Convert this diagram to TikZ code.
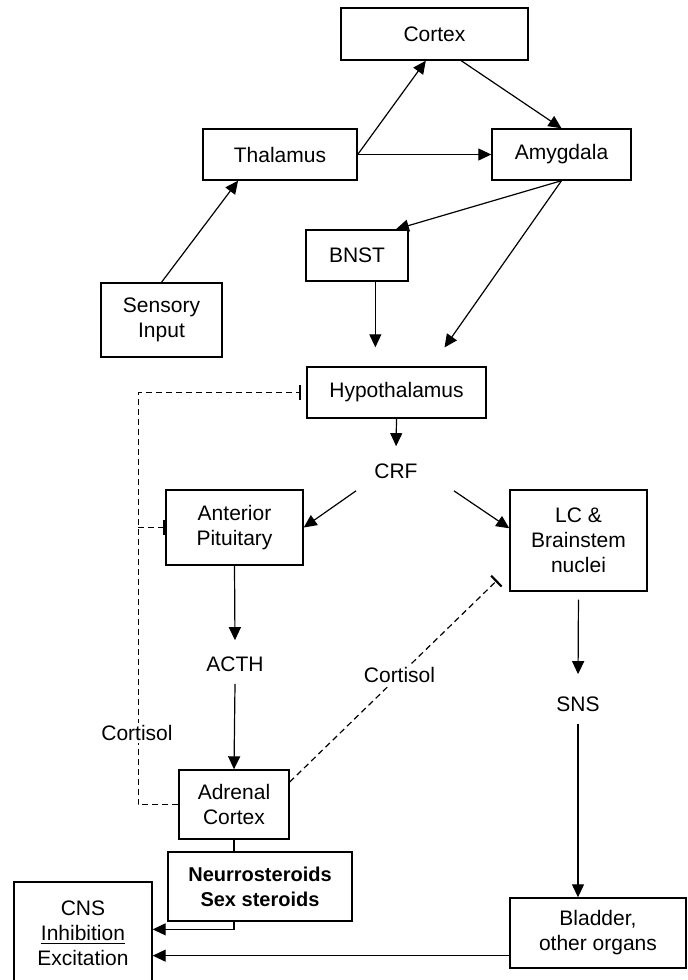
\documentclass[tikz,border=0pt]{standalone}
\usepackage{fontspec}
\setmainfont{Liberation Sans}
\usetikzlibrary{arrows.meta}

\begin{document}
\begin{tikzpicture}[x=0.5pt,y=-0.5pt,
    box/.style={draw,line width=0.7pt,align=center,inner sep=0pt,font=\fontsize{10.5}{12.5}\selectfont},
    txt/.style={inner sep=6pt,font=\fontsize{10.5}{12.5}\selectfont},
    lbl/.style={fill=white,inner sep=1pt,font=\fontsize{10.5}{12.5}\selectfont},
    arr/.style={line width=0.6pt,-{Triangle[length=6.5pt,width=6pt]}},
    inh/.style={line width=0.6pt,dash pattern=on 3pt off 2pt,-{Bar[width=7.5pt,line width=1.1pt]}}]
    \useasboundingbox (0,0) rectangle (688,980);
    % Boxes
    \node[box,minimum width=93.5pt,minimum height=26pt] (cortex) at (434.5,34) {Cortex};
    \node[box,minimum width=77pt,minimum height=25.5pt] (thalamus) at (280,154.5) {Thalamus};
    \node[box,minimum width=69.5pt,minimum height=25.5pt] (amygdala) at (561.5,154.5) {Amygdala};
    \node[box,minimum width=51pt,minimum height=25.5pt] (bnst) at (357,255.5) {BNST};
    \node[box,minimum width=60.5pt,minimum height=37pt] (sensory) at (161.5,320) {Sensory\\Input};
    \node[box,minimum width=89.5pt,minimum height=25.5pt] (hypo) at (396.5,392.5) {Hypothalamus};
    \node[box,minimum width=68.5pt,minimum height=37.5pt] (ap) at (234.5,527.5) {Anterior\\Pituitary};
    \node[box,minimum width=68.5pt,minimum height=50.5pt] (lc) at (578.5,540.5) {LC \&\\Brainstem\\nuclei};
    \node[box,minimum width=55pt,minimum height=34.5pt] (adrenal) at (234,804.5) {Adrenal\\Cortex};
    \node[box,minimum width=92pt,minimum height=34.5pt,font=\fontsize{10}{12.5}\selectfont\bfseries] (neuro) at (260,886.5) {Neurrosteroids\\Sex steroids};
    \node[box,minimum width=69pt,minimum height=51pt] (cns) at (83,933) {CNS\\\underline{Inhibition}\\Excitation};
    \node[box,minimum width=88pt,minimum height=35pt] (bladder) at (598,933) {Bladder,\\other organs};
    % Hormones
    \node[txt] (crf) at (396,471) {CRF};
    \node[txt] (acth) at (235,664) {ACTH};
    \node[txt] (sns) at (578,704) {SNS};
    % Excitatory paths
    \draw[arr] (sensory.north) -- (thalamus.212);
    \draw[arr] (thalamus.east) -- (cortex.252);
    \draw[arr] (thalamus.east) -- (amygdala.west);
    \draw[arr] (cortex.315) -- (amygdala.north);
    \draw[arr] (amygdala.south) -- (bnst.34);
    \draw[arr,shorten >=11.5pt] (amygdala.south) -- (hypo.37);
    \draw[arr,shorten >=9.5pt] (bnst.305) -- (bnst.305 |- hypo.north);
    \draw[arr,shorten >=2.5pt] (hypo.south) -- (crf.north);
    \draw[arr] ([xshift=-3pt]crf.south west) -- (ap.east);
    \draw[arr] ([xshift=12pt]crf.south east) -- (lc.170);
    \draw[arr,shorten >=2pt] (ap.south) -- (acth.north);
    \draw[arr] (acth.south) -- (adrenal.north);
    \draw[arr,shorten <=4pt,shorten >=5pt] (lc.south) -- (sns.north);
    \draw[arr] (sns.south) -- (sns.south |- bladder.north);
    \draw[line width=0.6pt] (adrenal.south) -- (adrenal.south |- neuro.north);
    \draw[arr] (adrenal.south |- neuro.south) |- (cns.3);
    \draw[arr] (cns.342 -| bladder.west) -- (cns.342);
    % Cortisol feedback
    \draw[inh,shorten >=2.5pt] (adrenal.west) -- ++(-40,0) |- (hypo.west);
    \draw[inh] ([xshift=-13.5pt]ap.west) -- (ap.west);
    \node[lbl] (cortleft) at (137,733) {Cortisol};
    \draw[inh,shorten >=8.5pt] (adrenal.22) -- node[lbl] (cortright) {Cortisol} (lc.202);
\end{tikzpicture}
\end{document}
